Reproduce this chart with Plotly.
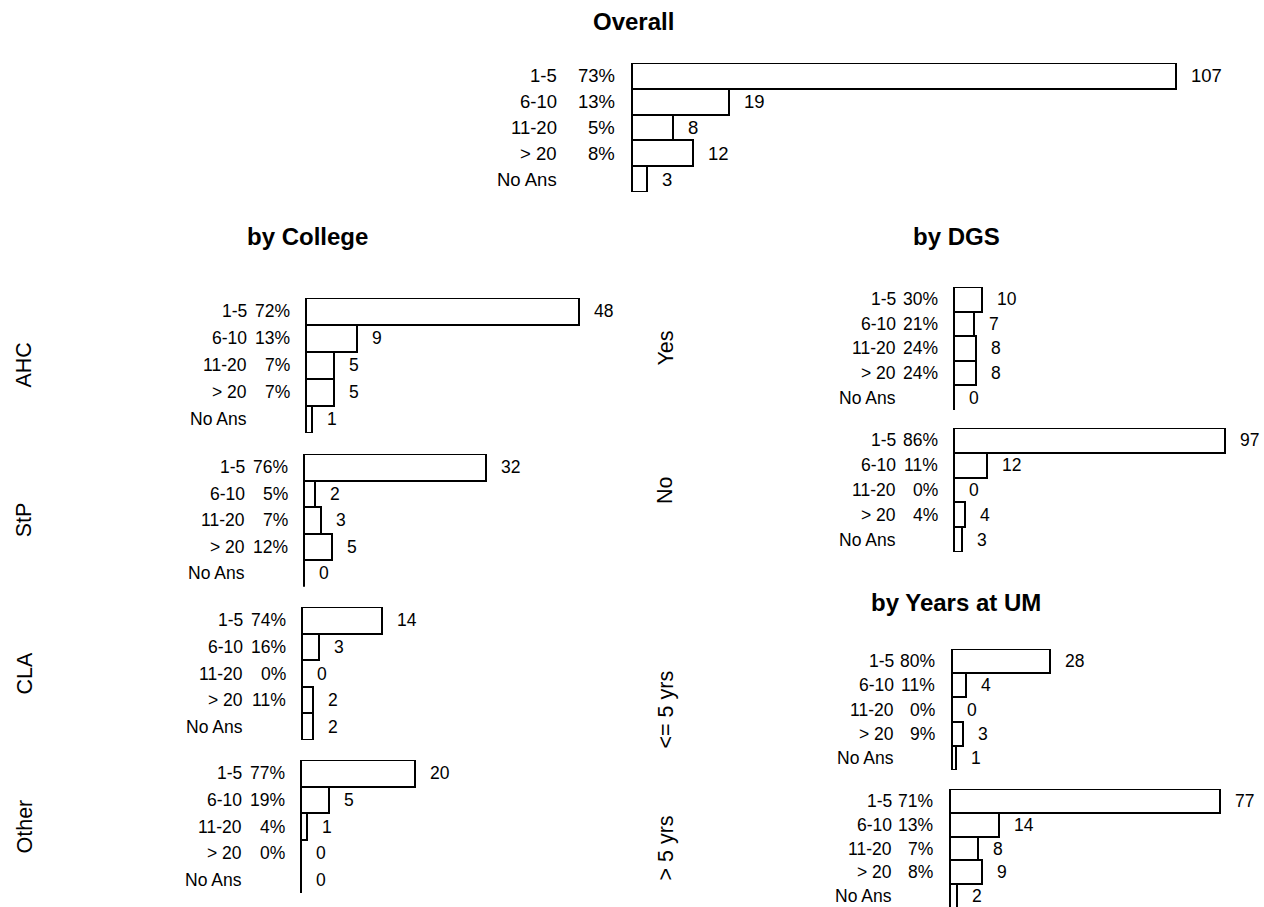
import plotly.graph_objects as go

# ---------------- data ----------------
categories = ["1-5", "6-10", "11-20", "> 20", "No Ans"]

overall_counts = [107, 19, 8, 12, 3]
overall_pct = ["73%", "13%", "5%", "8%", ""]

ahc_counts = [48, 9, 5, 5, 1]
ahc_pct = ["72%", "13%", "7%", "7%", ""]
stp_counts = [32, 2, 3, 5, 0]
stp_pct = ["76%", "5%", "7%", "12%", ""]
cla_counts = [14, 3, 0, 2, 2]
cla_pct = ["74%", "16%", "0%", "11%", ""]
other_counts = [20, 5, 1, 0, 0]
other_pct = ["77%", "19%", "4%", "0%", ""]

dgs_yes_counts = [10, 7, 8, 8, 0]
dgs_yes_pct = ["30%", "21%", "24%", "24%", ""]
dgs_no_counts = [97, 12, 0, 4, 3]
dgs_no_pct = ["86%", "11%", "0%", "4%", ""]

yrs_le5_counts = [28, 4, 0, 3, 1]
yrs_le5_pct = ["80%", "11%", "0%", "9%", ""]
yrs_gt5_counts = [77, 14, 8, 9, 2]
yrs_gt5_pct = ["71%", "13%", "7%", "8%", ""]

titles = ["Overall", "by College", "by DGS", "by Years at UM"]
college_groups = ["AHC", "StP", "CLA", "Other"]
dgs_groups = ["Yes", "No"]
years_groups = ["<= 5 yrs", "> 5 yrs"]

# ---------------- layout helpers ----------------
W, H = 1264, 907
FONT = "Liberation Sans, Arial, Helvetica, sans-serif"


def fx(p):
    return p / W


def fy(p):
    return 1 - p / H


panels = [
    dict(c=overall_counts, p=overall_pct, x0=632, s=5.08, top=63, rh=25.8, right=1264, cdx=-73, pdx=-15, fs=18.5, g=None),
    dict(c=ahc_counts, p=ahc_pct, x0=306, s=5.68, top=298, rh=27.0, right=640, cdx=-57, pdx=-14, fs=17.5, g=college_groups[0]),
    dict(c=stp_counts, p=stp_pct, x0=304, s=5.68, top=454, rh=26.5, right=640, cdx=-57, pdx=-14, fs=17.5, g=college_groups[1]),
    dict(c=cla_counts, p=cla_pct, x0=302, s=5.68, top=607, rh=26.6, right=640, cdx=-57, pdx=-14, fs=17.5, g=college_groups[2]),
    dict(c=other_counts, p=other_pct, x0=301, s=5.68, top=760, rh=26.6, right=640, cdx=-57, pdx=-14, fs=17.5, g=college_groups[3]),
    dict(c=dgs_yes_counts, p=dgs_yes_pct, x0=954, s=2.79, top=287, rh=24.6, right=1264, cdx=-56, pdx=-14, fs=17.5, g=dgs_groups[0]),
    dict(c=dgs_no_counts, p=dgs_no_pct, x0=954, s=2.79, top=428, rh=24.8, right=1264, cdx=-56, pdx=-14, fs=17.5, g=dgs_groups[1]),
    dict(c=yrs_le5_counts, p=yrs_le5_pct, x0=952, s=3.51, top=649, rh=24.2, right=1264, cdx=-56, pdx=-15, fs=17.5, g=years_groups[0]),
    dict(c=yrs_gt5_counts, p=yrs_gt5_pct, x0=950, s=3.51, top=789, rh=23.8, right=1264, cdx=-56, pdx=-15, fs=17.5, g=years_groups[1]),
]

fig = go.Figure()
layout = dict(
    width=W, height=H,
    margin=dict(l=0, r=0, t=0, b=0),
    paper_bgcolor="white", plot_bgcolor="white",
    showlegend=False, bargap=0,
    font=dict(family=FONT, color="black"),
)
annotations = []
shapes = []

for i, pn in enumerate(panels, start=1):
    xa = "x" if i == 1 else f"x{i}"
    ya = "y" if i == 1 else f"y{i}"
    xkey = "xaxis" if i == 1 else f"xaxis{i}"
    ykey = "yaxis" if i == 1 else f"yaxis{i}"

    left_px = pn["x0"] - 4
    bottom_px = min(pn["top"] + 5 * pn["rh"], H)
    nvis = (bottom_px - pn["top"]) / pn["rh"]

    layout[xkey] = dict(
        domain=[fx(left_px), fx(pn["right"])],
        range=[-(pn["x0"] - left_px) / pn["s"], (pn["right"] - pn["x0"]) / pn["s"]],
        visible=False, fixedrange=True, anchor=ya,
    )
    layout[ykey] = dict(
        domain=[fy(bottom_px), fy(pn["top"])],
        type="category", categoryarray=categories,
        range=[-0.5 + nvis, -0.5],
        visible=False, fixedrange=True, anchor=xa,
    )

    fig.add_trace(go.Bar(
        x=pn["c"], y=categories, orientation="h", width=1.0,
        marker=dict(color="white", line=dict(color="black", width=2)),
        xaxis=xa, yaxis=ya, hoverinfo="skip",
    ))

    shapes.append(dict(type="line", xref=xa, yref=f"{ya} domain",
                       x0=0, x1=0, y0=0, y1=1,
                       line=dict(color="black", width=2)))

    for cat, cnt, pct in zip(categories, pn["c"], pn["p"]):
        annotations.append(dict(
            xref="paper", yref=ya, x=fx(pn["x0"] + pn["cdx"]), y=cat,
            text=cat, showarrow=False, xanchor="right", yanchor="middle",
            font=dict(size=pn["fs"], family=FONT, color="black")))
        if pct:
            annotations.append(dict(
                xref="paper", yref=ya, x=fx(pn["x0"] + pn["pdx"]), y=cat,
                text=pct, showarrow=False, xanchor="right", yanchor="middle",
                font=dict(size=pn["fs"], family=FONT, color="black")))
        annotations.append(dict(
            xref=xa, yref=ya, x=cnt, y=cat, xshift=13,
            text=str(cnt), showarrow=False, xanchor="left", yanchor="middle",
            font=dict(size=pn["fs"], family=FONT, color="black")))

    if pn["g"]:
        gx = 24 if pn["x0"] < 640 else 665
        annotations.append(dict(
            xref="paper", yref="paper", x=fx(gx),
            y=fy(pn["top"] + 2.5 * pn["rh"]),
            text=pn["g"], textangle=-90, showarrow=False,
            xanchor="center", yanchor="middle",
            font=dict(size=21.5, family=FONT, color="black")))

title_pos = [(633, 21), (307, 237), (956, 237), (956, 602)]
for t, (tx, ty) in zip(titles, title_pos):
    annotations.append(dict(
        xref="paper", yref="paper", x=fx(tx), y=fy(ty),
        text=f"<b>{t}</b>", showarrow=False, xanchor="center", yanchor="middle",
        font=dict(size=24, family=FONT, color="black")))

layout["annotations"] = annotations
layout["shapes"] = shapes
fig.update_layout(**layout)

fig.write_html("out.html",
               config={"displayModeBar": False},
               post_script="document.body.style.margin='0';document.body.style.overflow='hidden';")
